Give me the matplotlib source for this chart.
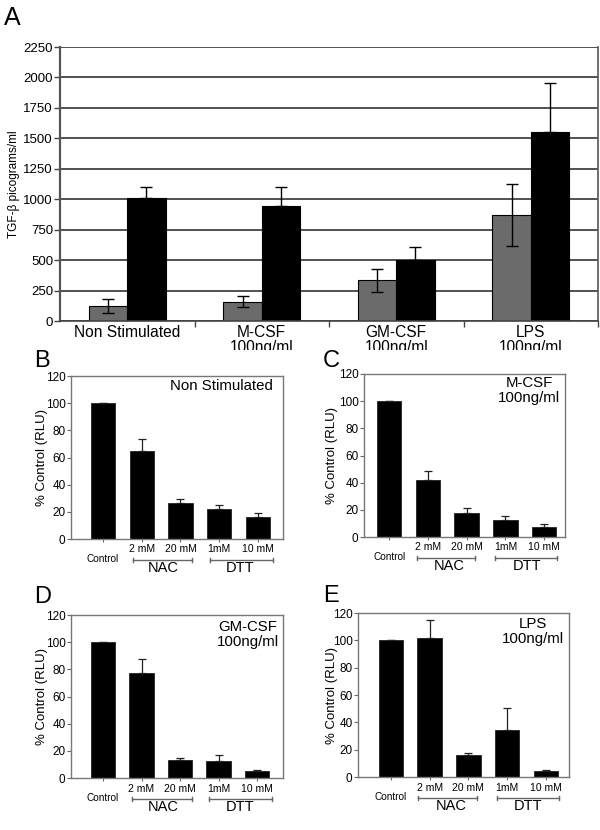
import matplotlib
matplotlib.use("Agg")
import matplotlib.pyplot as plt
import numpy as np
from matplotlib.transforms import blended_transform_factory, Bbox, TransformedBbox
from matplotlib.lines import Line2D

plt.rcParams['font.family'] = ['Liberation Sans', 'DejaVu Sans']

W, H = 600, 830

# ---------------- data ----------------
a_categories = ["Non Stimulated", "M-CSF\n100ng/ml", "GM-CSF\n100ng/ml", "LPS\n100ng/ml"]
a_gray = [123, 160, 333, 872]
a_gray_err = [57, 45, 91, 255]
a_black = [1012, 943, 503, 1553]
a_black_err = [88, 159, 107, 402]
a_yticks = [0, 250, 500, 750, 1000, 1250, 1500, 1750, 2000, 2250]

doses = ["Control", "2 mM", "20 mM", "1mM", "10 mM"]
groups = ["NAC", "DTT"]
b_vals = [100, 64.7, 26.3, 22.2, 16.3]
b_err = [0, 8.8, 3.0, 3.0, 2.7]
c_vals = [100, 42, 17.6, 12.5, 7.6]
c_err = [0, 6.4, 4.1, 3.1, 2.2]
d_vals = [100, 77.6, 13.5, 12.7, 4.9]
d_err = [0, 9.8, 1.2, 4.2, 1.0]
e_vals = [100, 101.4, 16.2, 34.5, 4.7]
e_err = [0, 13.5, 1.7, 16.0, 0.7]
small_yticks = [0, 20, 40, 60, 80, 100, 120]


def px_axes(l, t, r, b):
    return fig.add_axes([l / W, 1 - b / H, (r - l) / W, (b - t) / H])


def ftext(x, y, s, **kw):
    return fig.text(x / W, 1 - y / H, s, **kw)


fig = plt.figure(figsize=(6.0, 8.3), dpi=100)

# ---------------- Panel A ----------------
ax = px_axes(60, 47, 598, 321)
x = np.arange(len(a_categories))
w = 0.285
ax.set_axisbelow(True)
ax.yaxis.grid(True, color='#222222', linewidth=1.1)
ax.bar(x - w / 2, a_gray, w, color='#6b6b6b', edgecolor='black', linewidth=0.8,
       yerr=a_gray_err, error_kw=dict(ecolor='black', elinewidth=1.0, capsize=4, capthick=1.0))
ax.bar(x + w / 2, a_black, w, color='black', edgecolor='black', linewidth=0.8,
       yerr=[[0] * 4, a_black_err], error_kw=dict(ecolor='black', elinewidth=1.0, capsize=4, capthick=1.0))
ax.set_xlim(-0.5, 3.5)
ax.set_ylim(0, 2250)
ax.set_yticks(a_yticks)
ax.tick_params(axis='y', labelsize=9.5, length=4, width=1, pad=1, color='#444444')
ax.set_xticks(x)
ax.set_xticklabels(a_categories, fontsize=11.2, linespacing=0.95)
ax.tick_params(axis='x', length=0, pad=3)
ax.set_xticks([0.5, 1.5, 2.5, 3.5], minor=True)
ax.tick_params(axis='x', which='minor', length=4, width=1, color='#444444')
ax.spines['top'].set_visible(False)
ax.spines['left'].set_color('#555555')
ax.spines['left'].set_linewidth(1.6)
ax.spines['bottom'].set_color('#444444')
ax.spines['bottom'].set_linewidth(1.2)
ax.spines['right'].set_color('#555555')
ax.spines['right'].set_linewidth(1.2)
ax.set_ylabel("TGF-β picograms/ml", fontsize=8.5)
ax.yaxis.set_label_coords(-40 / 538, 0.5)
clipbox = TransformedBbox(Bbox([[0, 1 - 350 / H], [1, 1]]), fig.transFigure)
for lab in ax.get_xticklabels():
    lab.set_clip_on(True)
    lab.set_clip_box(clipbox)
ftext(4, 18, "A", fontsize=18, va='center', ha='left')


# ---------------- small panels ----------------
def small_panel(box, vals, errs, xlim, note, note_xy, note_ha, letter, letter_xy, ylab_x,
                nac_ext, dtt_ext):
    l, t, r, b = box
    ax = px_axes(l, t, r, b)
    xs = np.arange(len(doses))
    ax.bar(xs, vals, 0.63, color='black', edgecolor='#222222', linewidth=0.6,
           yerr=[[0] * len(errs), errs],
           error_kw=dict(ecolor='#222222', elinewidth=0.9, capsize=3, capthick=0.9))
    ax.set_xlim(*xlim)
    ax.set_ylim(0, 120)
    ax.set_yticks(small_yticks)
    ax.tick_params(axis='y', labelsize=8.5, length=3, width=0.8, pad=1, color='#666666')
    ax.set_xticks(xs)
    ax.set_xticklabels([])
    ax.tick_params(axis='x', length=2.5, width=0.8, color='#666666')
    for s in ax.spines.values():
        s.set_color('#777777')
        s.set_linewidth(1.0)
    ax.set_ylabel("% Control (RLU)", fontsize=9.5)
    ax.yaxis.set_label_coords((ylab_x - l) / (r - l), 0.5)
    tr = blended_transform_factory(ax.transData, fig.transFigure)
    fy = lambda ypx: 1 - ypx / H
    ax.text(0, fy(b + 20), doses[0], transform=tr, fontsize=7.2, ha='center', va='center')
    for i in range(1, 5):
        ax.text(i, fy(b + 10.5), doses[i], transform=tr, fontsize=7.5, ha='center', va='center')
    for (i0, i1), ext, g in zip([(1, 2), (3, 4)], [nac_ext, dtt_ext], groups):
        x0, x1 = i0 - ext[0], i1 + ext[1]
        yb = fy(b + 20.5)
        ax.add_line(Line2D([x0, x1], [yb, yb], transform=tr, color='#666666', lw=1.0, clip_on=False))
        for xx in (x0, x1):
            ax.add_line(Line2D([xx, xx], [fy(b + 18.5), fy(b + 22.5)], transform=tr,
                               color='#666666', lw=1.0, clip_on=False))
        ax.text((i0 + i1) / 2 + 0.05, fy(b + 29), g, transform=tr, fontsize=10.5,
                ha='center', va='center')
    ftext(note_xy[0], note_xy[1], note, fontsize=10.8, ha=note_ha, va='top',
          multialignment='center', linespacing=1.1)
    ftext(letter_xy[0], letter_xy[1], letter, fontsize=17, ha='left', va='center')
    return ax


small_panel((71, 376, 283, 539), b_vals, b_err, (-0.83, 4.65), "Non Stimulated",
            (273, 379), 'right', "B", (34, 361), 48, (0.24, 0.3), (0.24, 0.38))
small_panel((364, 374, 565, 537), c_vals, c_err, (-0.65, 4.54), "M-CSF\n100ng/ml",
            (529, 376), 'center', "C", (323, 361), 338, (0.29, 0.22), (0.26, 0.33))
small_panel((71, 615, 283, 778), d_vals, d_err, (-0.83, 4.67), "GM-CSF\n100ng/ml",
            (248, 620), 'center', "D", (34, 597), 48, (0.24, 0.3), (0.24, 0.38))
small_panel((358, 613, 569, 777), e_vals, e_err, (-0.85, 4.6), "LPS\n100ng/ml",
            (533, 617), 'center', "E", (323, 596), 338, (0.29, 0.22), (0.26, 0.33))

fig.savefig("out.png", dpi=100)
